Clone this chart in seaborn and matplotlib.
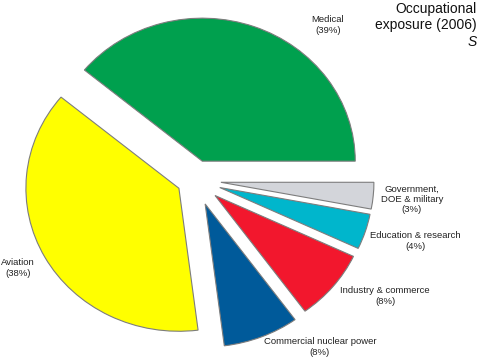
import matplotlib
matplotlib.use("Agg")
import matplotlib.pyplot as plt
import seaborn as sns

sns.set_theme(style="white")
plt.rcParams['font.family'] = ['Liberation Sans', 'DejaVu Sans']

# data
categories = ["Medical", "Aviation", "Commercial nuclear power",
              "Industry & commerce", "Education & research",
              "Government,\nDOE & military"]
shares = [39, 38, 8, 8, 4, 3]
explode = [0.14, 0.12, 0.18, 0.17, 0.17, 0.17]
colors = ["#00a04e", "#ffff00", "#005a9a", "#f2172d", "#00b6cc", "#d3d5da"]

W, H = 480, 357
fig = plt.figure(figsize=(W / 100, H / 100), dpi=100)
ax = fig.add_axes([0, 0, 1, 1])

ax.pie(shares, explode=explode, colors=colors, startangle=0,
       counterclock=True,
       wedgeprops=dict(edgecolor="#7d7d7d", linewidth=0.8))

# pie centre at pixel (195, 180); 153 px per unit across, 143 px per unit down
cx, cy, sx, sy = 195, 180, 153, 143
ax.set_aspect("auto")
ax.set_xlim(-cx / sx, (W - cx) / sx)
ax.set_ylim((cy - H) / sy, cy / sy)
ax.axis("off")


def px(x, y):
    return x / W, 1 - y / H


label_pos = [(328, 25), (18, 268), (320, 347), (385, 296), (415, 241), (412, 199)]
for name, val, (x, y) in zip(categories, shares, label_pos):
    fig.text(*px(x, y), f"{name}\n({val}%)", ha="center", va="center",
             fontsize=6.8, color="#222222", linespacing=1.15)

fig.text(*px(477, 17), "Occupational\nexposure (2006)", ha="right", va="center",
         fontsize=10, color="#111111", linespacing=1.2)
fig.text(*px(477, 42), "S", ha="right", va="center", fontsize=10,
         style="italic", color="#111111")

fig.savefig("out.png", dpi=100, facecolor="white")
